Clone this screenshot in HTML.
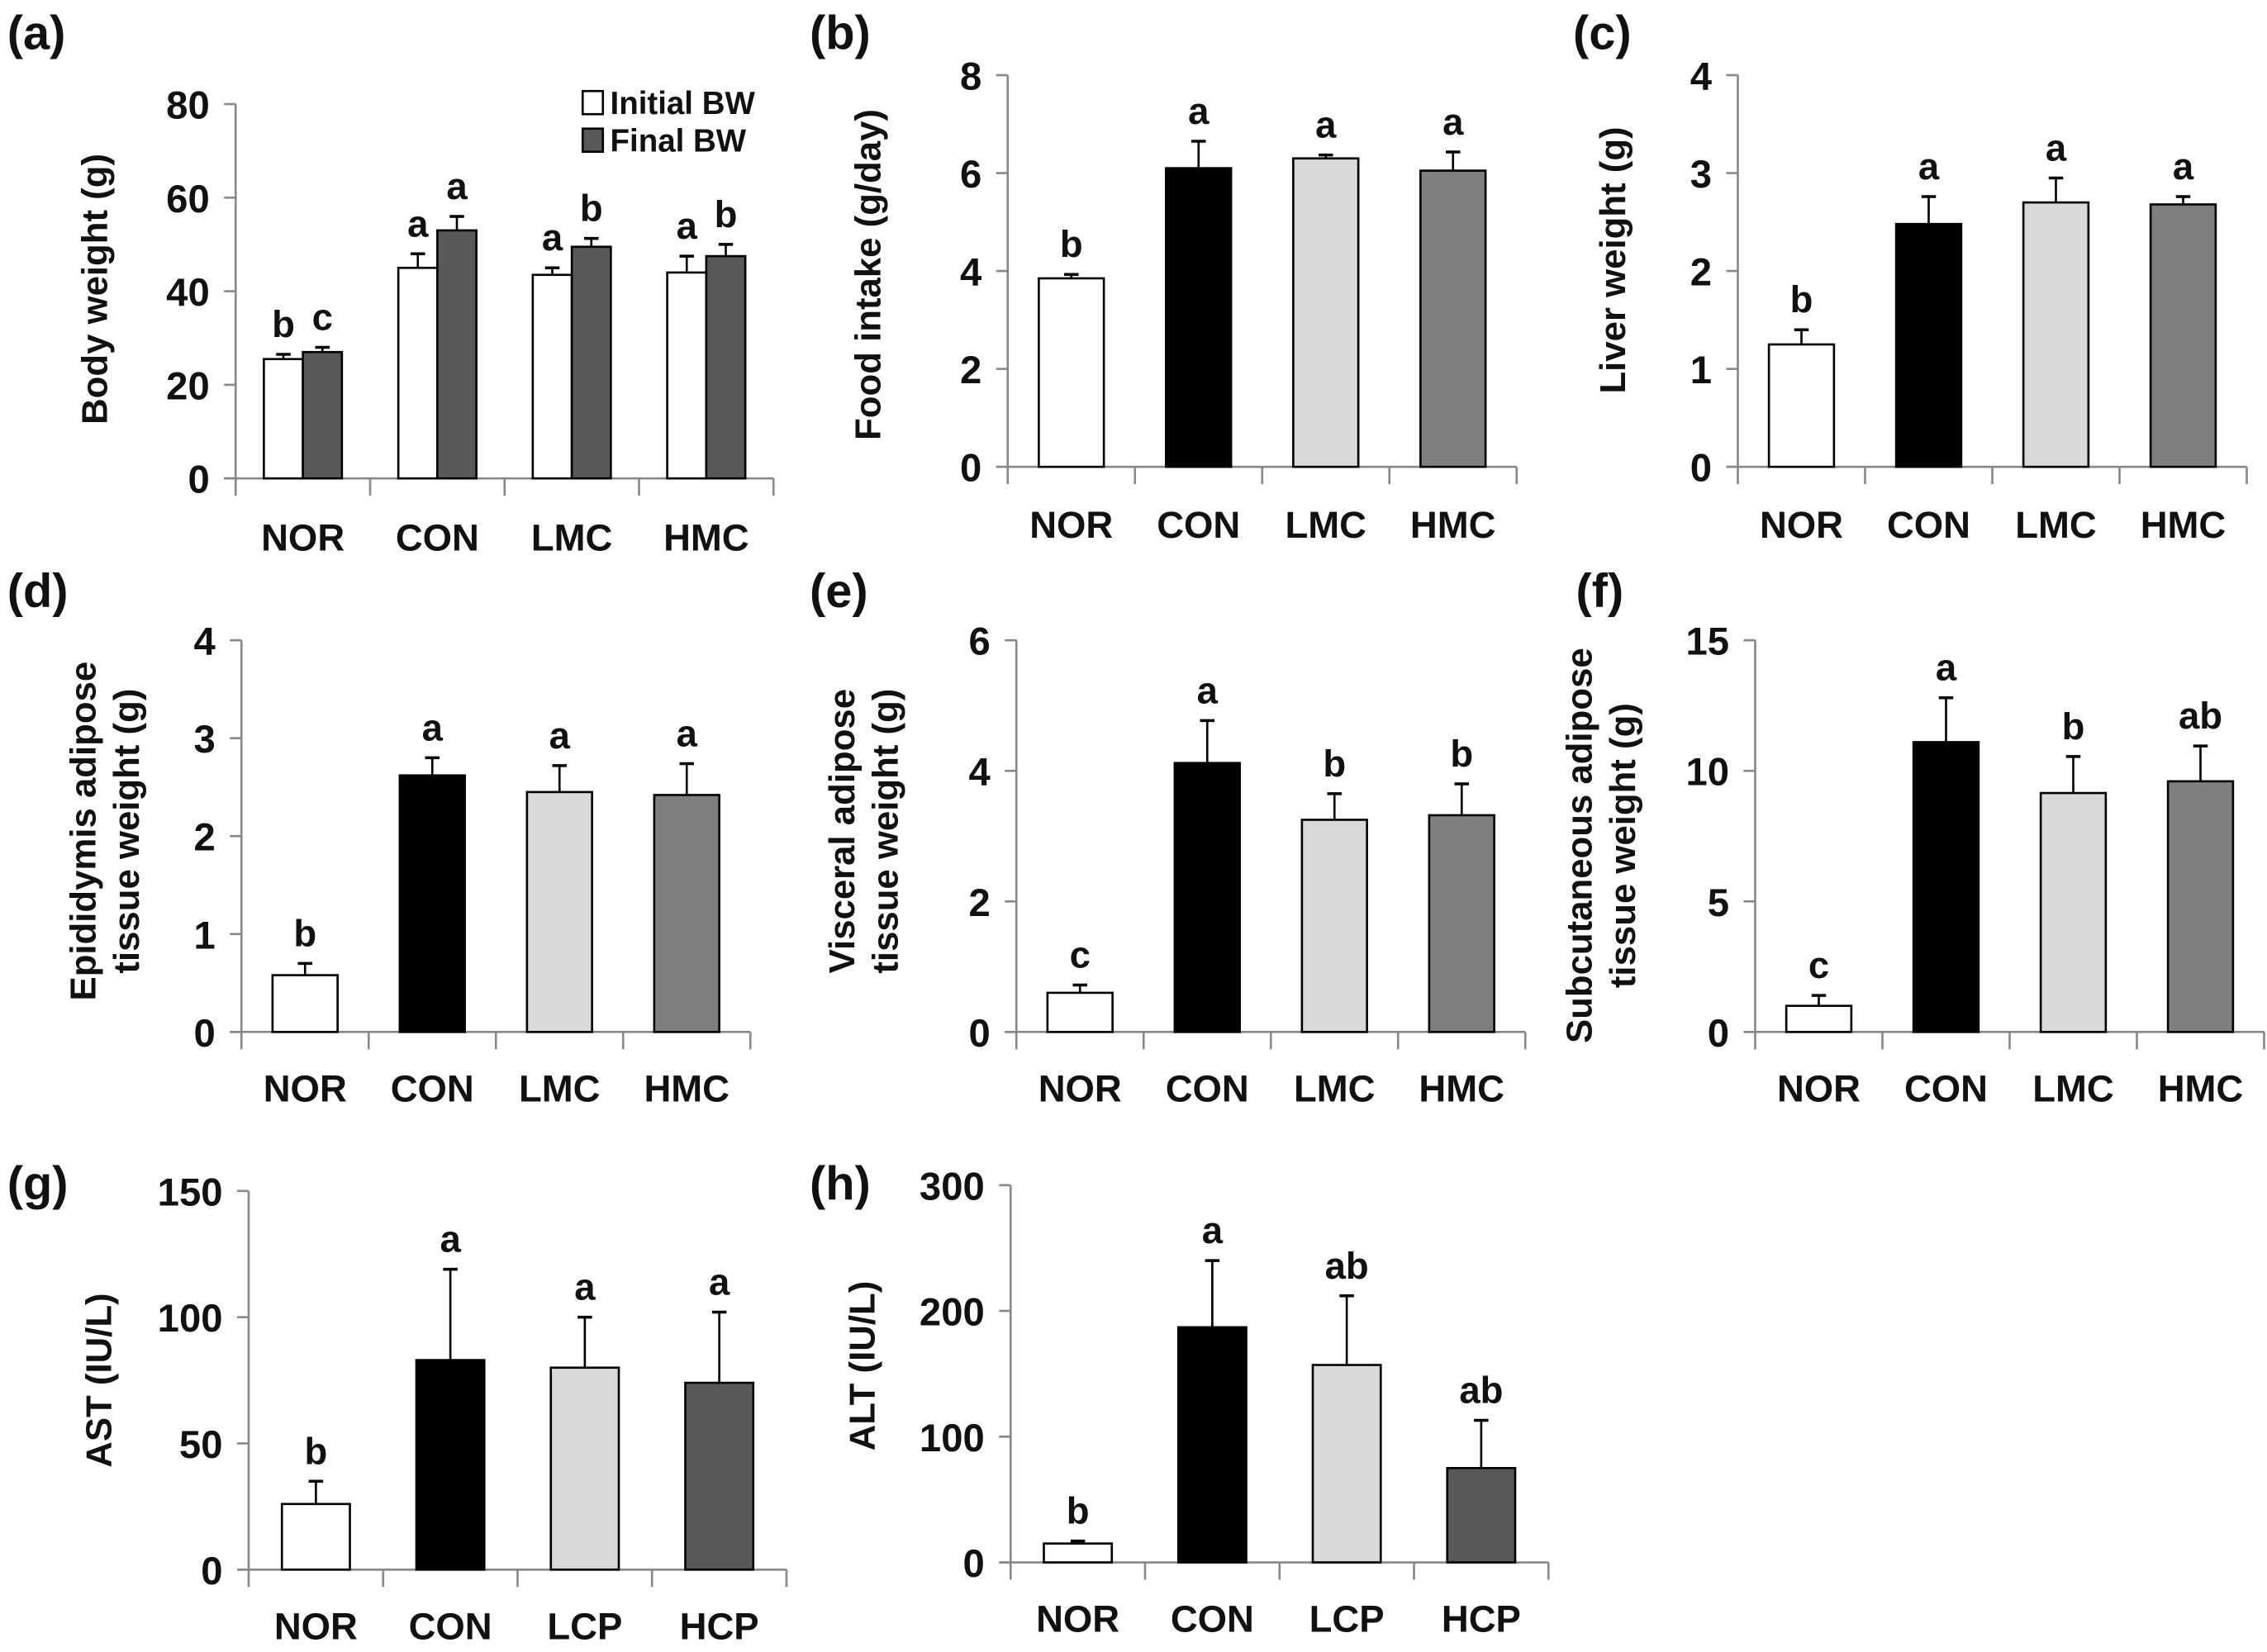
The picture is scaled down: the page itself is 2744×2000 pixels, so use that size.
<!DOCTYPE html>
<html><head><meta charset="utf-8">
<style>
html,body{margin:0;padding:0;background:#fff;}
svg{display:block;}
text{font-family:"Liberation Sans",sans-serif;font-weight:bold;fill:#111;}
</style></head>
<body>
<svg id="fig" width="2744" height="2000" viewBox="0 0 1568 1143" preserveAspectRatio="none" xmlns="http://www.w3.org/2000/svg"></svg>
<script>
// ---- data ----
const groupsMC = ["NOR","CON","LMC","HMC"];
const groupsCP = ["NOR","CON","LCP","HCP"];
const aInitial = [25.5,45,43.5,44];
const aInitialErr = [1,3,1.5,3.5];
const aInitialLetters = ["b","a","a","a"];
const aFinal = [27,53,49.5,47.5];
const aFinalErr = [1,3,1.8,2.5];
const aFinalLetters = ["c","a","b","b"];
const aTicks = [0,20,40,60,80];
const bValues = [3.85,6.1,6.3,6.05];
const bErr = [0.08,0.55,0.07,0.38];
const bLetters = ["b","a","a","a"];
const bTicks = [0,2,4,6,8];
const cValues = [1.25,2.48,2.7,2.68];
const cErr = [0.15,0.28,0.25,0.08];
const cLetters = ["b","a","a","a"];
const cTicks = [0,1,2,3,4];
const dValues = [0.58,2.62,2.45,2.42];
const dErr = [0.12,0.18,0.27,0.32];
const dLetters = ["b","a","a","a"];
const dTicks = [0,1,2,3,4];
const eValues = [0.6,4.12,3.25,3.32];
const eErr = [0.12,0.65,0.4,0.48];
const eLetters = ["c","a","b","b"];
const eTicks = [0,2,4,6];
const fValues = [1.0,11.1,9.15,9.6];
const fErr = [0.4,1.7,1.4,1.35];
const fLetters = ["c","a","b","ab"];
const fTicks = [0,5,10,15];
const gValues = [26,83,80,74];
const gErr = [9,36,20,28];
const gLetters = ["b","a","a","a"];
const gTicks = [0,50,100,150];
const hValues = [15,187,157,75];
const hErr = [2,53,55,38];
const hLetters = ["b","a","ab","ab"];
const hTicks = [0,100,200,300];

const NS = "http://www.w3.org/2000/svg";
const svg = document.getElementById("fig");
function mk(tag, attrs, parent, txt){
  const e = document.createElementNS(NS, tag);
  for (const k in attrs) e.setAttribute(k, attrs[k]);
  if (txt !== undefined) e.textContent = txt;
  (parent||svg).appendChild(e);
  return e;
}
const fillsStd = ["#ffffff","#000000","#d9d9d9","#7f7f7f"];
const fillsGH = ["#ffffff","#000000","#d9d9d9","#595959"];

function panel(p){
  const g = mk("g", {});
  
  
  const max = p.ticks[p.ticks.length-1];
  const y = v => p.y0 - (v/max)*(p.y0 - p.y1);
  const n = p.cats.length;
  const x1 = p.x0 + p.step*n;
  const pl = mk("text", {x:p.lx, y:p.ly, "font-size":33}, g, "("+p.id+")");
  
  
  const ya = mk("line", {x1:p.x0, y1:p.y1, x2:p.x0, y2:p.y0, stroke:"#888", "stroke-width":1.5}, g);
  
  
  const xa = mk("line", {x1:p.x0-8, y1:p.y0, x2:x1, y2:p.y0, stroke:"#888", "stroke-width":1.5}, g);
  
  
  for (let i=0;i<=n;i++){
    const xt = p.x0 + p.step*i;
    mk("line", {x1:xt, y1:p.y0, x2:xt, y2:p.y0+12, stroke:"#888", "stroke-width":1.5}, g);
  }
  p.ticks.forEach(t=>{
    mk("line", {x1:p.x0-8, y1:y(t), x2:p.x0, y2:y(t), stroke:"#888", "stroke-width":1.5}, g);
    const tl = mk("text", {x:p.x0-18, y:y(t)+10, "font-size":27, "text-anchor":"end"}, g, String(t));
    
    
  });
  p.titles.forEach((tt,k)=>{
    const tx = p.tx + k*30;
    const te = mk("text", {x:tx, y:p.ty, "font-size":25, "text-anchor":"middle", transform:"rotate(-90 "+tx+" "+p.ty+")"}, g, tt);
    
    
  });
  p.cats.forEach((c,i)=>{
    const cx = p.x0 + p.step*(i+0.5);
    const ce = mk("text", {x:cx, y:p.catY, "font-size":26, "text-anchor":"middle"}, g, c);
    
    
  });
  p.series.forEach((s,si)=>{
    s.vals.forEach((v,i)=>{
      const cx = p.x0 + p.step*(i+0.5) + s.off;
      const bx = cx - p.bw/2, by = y(v);
      const b = mk("rect", {x:bx, y:by, width:p.bw, height:p.y0-by, fill:s.fill[i], stroke:"#000", "stroke-width":1.5}, g);
      
      
      const ey = y(v + s.err[i]);
      mk("line", {x1:cx, y1:by, x2:cx, y2:ey, stroke:"#000", "stroke-width":1.5}, g);
      mk("line", {x1:cx-5, y1:ey, x2:cx+5, y2:ey, stroke:"#000", "stroke-width":2}, g);
      const le = mk("text", {x:cx, y:ey-12, "font-size":26, "text-anchor":"middle"}, g, s.letters[i]);
      
      
    });
  });
}

panel({id:"a", x0:163, y0:331, y1:72, step:93, bw:27, ticks:aTicks, cats:groupsMC, catY:381, lx:5, ly:34,
  titles:["Body weight (g)"], tx:74, ty:200,
  series:[{vals:aInitial, err:aInitialErr, letters:aInitialLetters, fill:Array(4).fill("#ffffff"), off:-13.5},
          {vals:aFinal, err:aFinalErr, letters:aFinalLetters, fill:Array(4).fill("#595959"), off:13.5}]});
panel({id:"b", x0:697, y0:323, y1:52, step:88, bw:45, ticks:bTicks, cats:groupsMC, catY:372, lx:560, ly:34,
  titles:["Food intake (g/day)"], tx:609, ty:190,
  series:[{vals:bValues, err:bErr, letters:bLetters, fill:fillsStd, off:0}]});
panel({id:"c", x0:1202, y0:323, y1:52, step:88, bw:45, ticks:cTicks, cats:groupsMC, catY:372, lx:1088, ly:34,
  titles:["Liver weight (g)"], tx:1124, ty:180,
  series:[{vals:cValues, err:cErr, letters:cLetters, fill:fillsStd, off:0}]});
panel({id:"d", x0:167, y0:714, y1:443, step:88, bw:45, ticks:dTicks, cats:groupsMC, catY:762, lx:5, ly:420,
  titles:["Epididymis adipose","tissue  weight (g)"], tx:66, ty:575,
  series:[{vals:dValues, err:dErr, letters:dLetters, fill:fillsStd, off:0}]});
panel({id:"e", x0:703, y0:714, y1:443, step:88, bw:45, ticks:eTicks, cats:groupsMC, catY:762, lx:560, ly:420,
  titles:["Visceral adipose","tissue weight (g)"], tx:591, ty:575,
  series:[{vals:eValues, err:eErr, letters:eLetters, fill:fillsStd, off:0}]});
panel({id:"f", x0:1214, y0:714, y1:443, step:88, bw:45, ticks:fTicks, cats:groupsMC, catY:762, lx:1090, ly:420,
  titles:["Subcutaneous adipose","tissue weight (g)"], tx:1101, ty:585,
  series:[{vals:fValues, err:fErr, letters:fLetters, fill:fillsStd, off:0}]});
panel({id:"g", x0:172, y0:1086, y1:824, step:93, bw:47, ticks:gTicks, cats:groupsCP, catY:1134, lx:5, ly:830,
  titles:["AST (IU/L)"], tx:77, ty:955,
  series:[{vals:gValues, err:gErr, letters:gLetters, fill:fillsGH, off:0}]});
panel({id:"h", x0:699, y0:1081, y1:820, step:93, bw:47, ticks:hTicks, cats:groupsCP, catY:1129, lx:560, ly:830,
  titles:["ALT (IU/L)"], tx:605, ty:945,
  series:[{vals:hValues, err:hErr, letters:hLetters, fill:fillsGH, off:0}]});

const lg = mk("g", {});


const l1 = mk("rect", {x:403, y:63, width:14, height:16, fill:"#fff", stroke:"#000", "stroke-width":1.5}, lg);


const t1 = mk("text", {x:422, y:79, "font-size":22}, lg, "Initial BW");


const l2 = mk("rect", {x:403, y:89, width:14, height:16, fill:"#595959", stroke:"#000", "stroke-width":1.5}, lg);


const t2 = mk("text", {x:422, y:105, "font-size":22}, lg, "Final BW");


</script>
</body></html>
